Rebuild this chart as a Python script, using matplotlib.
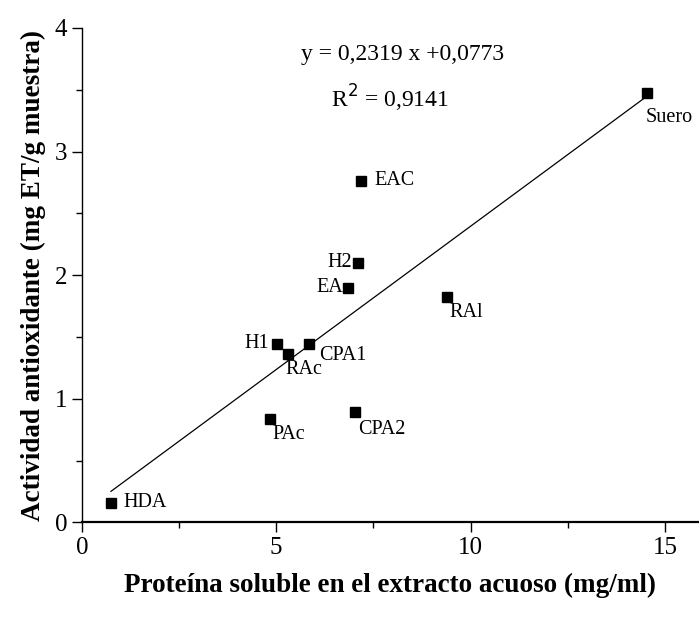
import matplotlib.pyplot as plt

plt.rcParams['font.family'] = ['Liberation Serif', 'DejaVu Serif']

# muestras: proteina soluble (mg/ml) vs actividad antioxidante (mg ET/g)
muestras = ['HDA', 'PAc', 'CPA2', 'H1', 'RAc', 'CPA1', 'EA', 'H2', 'EAC', 'RAl', 'Suero']
proteina = [0.75, 4.84, 7.03, 5.03, 5.31, 5.83, 6.85, 7.09, 7.18, 9.40, 14.54]
actividad = [0.16, 0.84, 0.89, 1.445, 1.36, 1.445, 1.90, 2.10, 2.765, 1.82, 3.47]

pendiente = 0.2319
ordenada = 0.0773
r2 = 0.9141

# desplazamiento de cada etiqueta (px) y alineacion
offsets = {
    'HDA': (12, 0, 'left', 'center'),
    'PAc': (2, -6, 'left', 'top'),
    'CPA2': (3, -8, 'left', 'top'),
    'H1': (-8, 0, 'right', 'center'),
    'RAc': (-3, -6, 'left', 'top'),
    'CPA1': (11, -2, 'left', 'top'),
    'EA': (-5, 0, 'right', 'center'),
    'H2': (-5, 0, 'right', 'center'),
    'EAC': (13, 0, 'left', 'center'),
    'RAl': (2, -6, 'left', 'top'),
    'Suero': (-2, -15, 'left', 'top'),
}

fig = plt.figure(figsize=(6.99, 6.19), dpi=100)
ax = fig.add_axes([0.117, 0.156, 0.883, 0.799])

xs = [min(proteina), max(proteina)]
ax.plot(xs, [pendiente * x + ordenada for x in xs], color='black', lw=0.9)
ax.plot(proteina, actividad, 's', color='black', ms=7)

for nombre, x, y in zip(muestras, proteina, actividad):
    dx, dy, ha, va = offsets[nombre]
    ax.annotate(nombre, (x, y), xytext=(dx, dy), textcoords='offset pixels',
                ha=ha, va=va, fontsize=14.5)

ax.text(0.52, 0.946, 'y = 0,2319 x +0,0773', transform=ax.transAxes,
        ha='center', va='center', fontsize=17)
ax.text(0.50, 0.857, r'R$^2$ = 0,9141', transform=ax.transAxes,
        ha='center', va='center', fontsize=17)

ax.set_xlim(0, 15.87)
ax.set_ylim(0, 4)
ax.set_xticks([0, 5, 10, 15])
ax.set_xticks([2.5, 7.5, 12.5], minor=True)
ax.set_yticks([0, 1, 2, 3, 4])
ax.set_yticks([0.5, 1.5, 2.5, 3.5], minor=True)
ax.tick_params(which='major', direction='out', length=7, width=1, labelsize=18)
ax.tick_params(which='minor', direction='out', length=4, width=1)
ax.spines['top'].set_visible(False)
ax.spines['right'].set_visible(False)
ax.spines['bottom'].set_linewidth(1.6)
ax.spines['left'].set_linewidth(1.0)

ax.set_xlabel('Proteína soluble en el extracto acuoso (mg/ml)', fontsize=19.5,
              fontweight='bold', labelpad=10)
ax.set_ylabel('Actividad antioxidante (mg ET/g muestra)', fontsize=19.5,
              fontweight='bold', labelpad=6)

fig.savefig('out.png', dpi=100)
